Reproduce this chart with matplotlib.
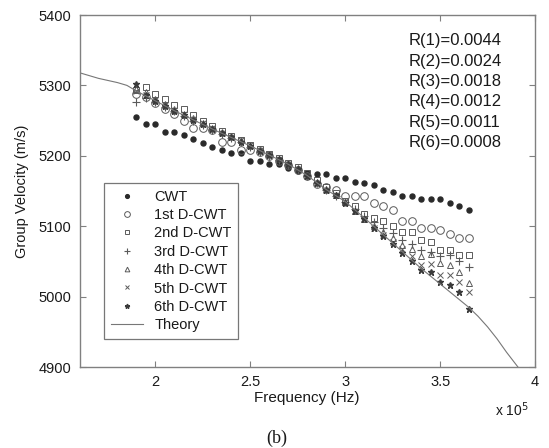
import matplotlib
matplotlib.use("Agg")
import matplotlib.pyplot as plt

# ---------------- data (frequency in units of 1e5 Hz) ----------------
freq = [1.90, 1.95, 2.00, 2.05, 2.10, 2.15, 2.20, 2.25, 2.30, 2.35, 2.40, 2.45,
        2.50, 2.55, 2.60, 2.65, 2.70, 2.75, 2.80, 2.85, 2.90, 2.95, 3.00, 3.05,
        3.10, 3.15, 3.20, 3.25, 3.30, 3.35, 3.40, 3.45, 3.50, 3.55, 3.60, 3.65]

cwt = [5255, 5245, 5245, 5234, 5234, 5229, 5224, 5218, 5213, 5208, 5204, 5204,
       5193, 5193, 5188, 5188, 5183, 5178, 5176, 5174, 5174, 5168, 5168, 5163,
       5161, 5158, 5152, 5148, 5143, 5143, 5138, 5138, 5138, 5133, 5129, 5123]

d1 = [5288, 5283, 5275, 5266, 5260, 5250, 5239, 5239, 5236, 5219, 5219, 5208,
      5208, 5205, 5200, 5193, 5187, 5180, 5172, 5160, 5155, 5152, 5143, 5143,
      5143, 5133, 5129, 5123, 5108, 5108, 5098, 5098, 5094, 5089, 5083, 5083]

d2 = [5293, 5298, 5288, 5280, 5272, 5266, 5258, 5250, 5243, 5235, 5228, 5222,
      5216, 5209, 5203, 5197, 5190, 5184, 5175, 5166, 5155, 5147, 5136, 5128,
      5118, 5112, 5107, 5100, 5092, 5092, 5080, 5078, 5066, 5066, 5059, 5059]

d3 = [5277, 5282, 5276, 5270, 5263, 5257, 5250, 5244, 5237, 5231, 5225, 5219,
      5213, 5206, 5200, 5194, 5187, 5180, 5171, 5161, 5151, 5143, 5135, 5124,
      5114, 5106, 5098, 5090, 5080, 5075, 5066, 5063, 5057, 5059, 5050, 5042]

d4 = [5295, 5290, 5281, 5274, 5266, 5260, 5253, 5247, 5240, 5234, 5228, 5222,
      5216, 5209, 5203, 5196, 5189, 5182, 5173, 5163, 5153, 5145, 5134, 5122,
      5110, 5100, 5092, 5083, 5074, 5068, 5058, 5061, 5048, 5045, 5035, 5019]

d5 = [5292, 5287, 5279, 5272, 5265, 5259, 5252, 5246, 5239, 5233, 5227, 5223,
      5215, 5208, 5202, 5195, 5188, 5181, 5172, 5162, 5152, 5144, 5134, 5122,
      5110, 5098, 5088, 5078, 5067, 5058, 5045, 5047, 5031, 5031, 5021, 5007]

d6 = [5302, 5286, 5278, 5271, 5264, 5258, 5251, 5245, 5238, 5232, 5226, 5220,
      5214, 5207, 5201, 5195, 5188, 5181, 5172, 5162, 5152, 5144, 5133, 5122,
      5110, 5098, 5086, 5075, 5062, 5050, 5038, 5035, 5021, 5016, 5007, 4983]

theory_f = [1.60, 1.70, 1.80, 1.85, 1.90, 1.95, 2.00, 2.10, 2.20, 2.30, 2.40, 2.50,
            2.60, 2.70, 2.80, 2.90, 3.00, 3.10, 3.20, 3.30, 3.40, 3.50, 3.60, 3.65,
            3.70, 3.75, 3.80, 3.85, 3.91]
theory_v = [5318, 5310, 5304, 5300, 5292, 5285, 5278, 5264, 5251, 5238, 5226, 5214,
            5201, 5188, 5172, 5152, 5135, 5112, 5088, 5064, 5040, 5018, 4996, 4985,
            4972, 4957, 4940, 4921, 4900]

labels = ["CWT", "1st D-CWT", "2nd D-CWT", "3rd D-CWT", "4th D-CWT",
          "5th D-CWT", "6th D-CWT", "Theory"]
r_texts = ["R(1)=0.0044", "R(2)=0.0024", "R(3)=0.0018",
           "R(4)=0.0012", "R(5)=0.0011", "R(6)=0.0008"]
xticks = [2, 2.5, 3, 3.5, 4]
xticklabels = ["2", "2.5", "3", "3.5", "4"]
yticks = [4900, 5000, 5100, 5200, 5300, 5400]

# ---------------- figure ----------------
plt.rcParams['font.family'] = ['Liberation Sans', 'DejaVu Sans']
W, H = 549, 448
fig = plt.figure(figsize=(W / 100, H / 100), dpi=100)
ax = fig.add_axes([79.5 / W, 1 - 367 / H, (535 - 79.5) / W, (367 - 15) / H])

dark = '#2a2a2a'
mid = '#5a5a5a'

ax.plot(freq, cwt, linestyle='none', marker='o', ms=3.6, color=dark, mec=dark, label=labels[0])
ax.plot(freq, d1, linestyle='none', marker='o', ms=5.5, mfc='none', mec=mid, mew=0.7, label=labels[1])
ax.plot(freq, d2, linestyle='none', marker='s', ms=4.2, mfc='none', mec=mid, mew=0.7, label=labels[2])
ax.plot(freq, d3, linestyle='none', marker='+', ms=5.5, color=mid, mew=0.8, label=labels[3])
ax.plot(freq, d4, linestyle='none', marker='^', ms=4.5, mfc='none', mec=mid, mew=0.7, label=labels[4])
ax.plot(freq, d5, linestyle='none', marker='x', ms=4.0, color=mid, mew=0.7, label=labels[5])
ax.plot(freq, d6, linestyle='none', marker='*', ms=4.6, color='#3a3a3a', mec='#3a3a3a', label=labels[6])
ax.plot(theory_f, theory_v, color='#777777', lw=0.8, label=labels[7])

ax.set_xlim(1.6, 4)
ax.set_ylim(4900, 5400)
ax.set_xticks(xticks)
ax.set_xticklabels(xticklabels)
ax.set_yticks(yticks)

for s in ax.spines.values():
    s.set_color('#808080')
    s.set_linewidth(1.0)
ax.tick_params(direction='in', length=4, width=0.8, color='#808080',
               labelsize=10.5, labelcolor='#1a1a1a', top=True, right=True, pad=6)

ax.set_xlabel("Frequency (Hz)", fontsize=11, color='#1a1a1a', labelpad=1)
ax.set_ylabel("Group Velocity (m/s)", fontsize=10.5, color='#1a1a1a', labelpad=7)

# multiplier text, MATLAB style
ax.text(0.987, -0.12, r"x 10$^{5}$", transform=ax.transAxes, ha='right', va='center',
        fontsize=10, color='#1a1a1a')

leg = ax.legend(loc='lower left', bbox_to_anchor=(0.054, 0.08), borderaxespad=0,
                fontsize=10.5, frameon=True, fancybox=False, markerscale=0.75,
                labelspacing=0.30, handlelength=2.2, handletextpad=0.8,
                borderpad=0.45, numpoints=1)
leg.get_frame().set_edgecolor('#555555')
leg.get_frame().set_linewidth(0.9)
for t in leg.get_texts():
    t.set_color('#1a1a1a')

y0 = 0.927
step = 0.058
for i, t in enumerate(r_texts):
    ax.text(0.722, y0 - i * step, t, transform=ax.transAxes, ha='left', va='center',
            fontsize=12, color='#1a1a1a')

fig.text(276.6 / W, 1 - 438.5 / H, "(b)", ha='center', va='center', fontsize=13,
         family=['Liberation Serif', 'DejaVu Serif'], color='#1a1a1a')

fig.savefig("out.png", dpi=100)
